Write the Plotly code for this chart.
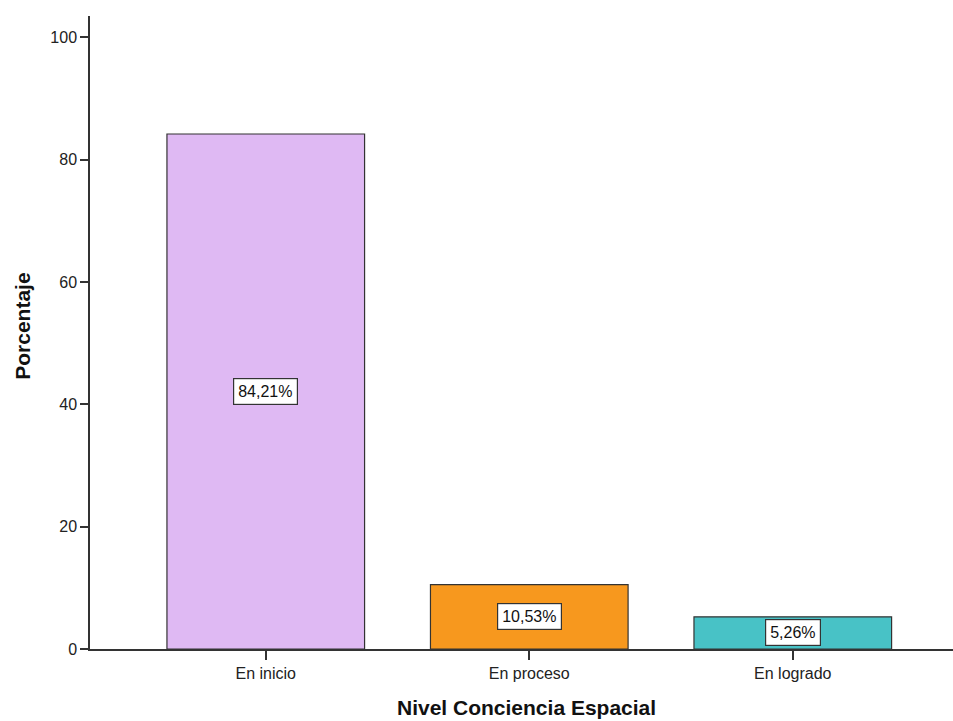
import plotly.graph_objects as go

categories = ["En inicio", "En proceso", "En logrado"]
values = [84.21, 10.53, 5.26]
labels = ["84,21%", "10,53%", "5,26%"]
colors = ["#DFB9F3", "#F7981E", "#48C2C6"]
y_ticks = [0, 20, 40, 60, 80, 100]

FONT = "Liberation Sans, Arial, sans-serif"

fig = go.Figure()
fig.add_trace(go.Bar(
    x=categories, y=values, width=0.75,
    marker=dict(color=colors, line=dict(color="#333333", width=1.2)),
    hoverinfo="skip",
))

for c, v, t in zip(categories, values, labels):
    fig.add_annotation(
        x=c, y=v / 2, text=t, showarrow=False, xref="x", yref="y",
        font=dict(family=FONT, size=16, color="#111111"),
        bgcolor="white", bordercolor="#333333", borderwidth=1.2, borderpad=4,
        yanchor="middle",
    )

fig.add_annotation(
    xref="paper", yref="paper", x=0.506, y=0, yshift=-58, text="<b>Nivel Conciencia Espacial</b>",
    showarrow=False, font=dict(family=FONT, size=21, color="#111111"), yanchor="middle",
)
fig.add_annotation(
    xref="paper", yref="paper", x=0, y=0.509, xshift=-67, text="<b>Porcentaje</b>", textangle=-90,
    showarrow=False, font=dict(family=FONT, size=21, color="#111111"), xanchor="center",
)

fig.update_layout(
    width=953, height=721,
    margin=dict(l=90, r=0, t=16, b=72),
    plot_bgcolor="white", paper_bgcolor="white",
    showlegend=False,
    font=dict(family=FONT, size=16, color="#222222"),
)
fig.update_xaxes(
    range=[-0.667, 2.608], showline=True, linecolor="#333333", linewidth=1.5,
    ticks="outside", ticklen=9, tickcolor="#333333", tickwidth=1.5,
    showgrid=False, zeroline=False, tickfont=dict(size=16, color="#222222"),
)
fig.update_yaxes(
    range=[0, 103.5], tickvals=y_ticks, showline=True, linecolor="#333333", linewidth=1.5,
    ticks="outside", ticklen=8, tickcolor="#333333", tickwidth=1.5,
    showgrid=False, zeroline=False, tickfont=dict(size=16, color="#222222"),
)

fig.write_html(
    "out.html",
    config={"displayModeBar": False},
    post_script="document.body.style.margin='0';document.body.style.overflow='hidden';",
)
